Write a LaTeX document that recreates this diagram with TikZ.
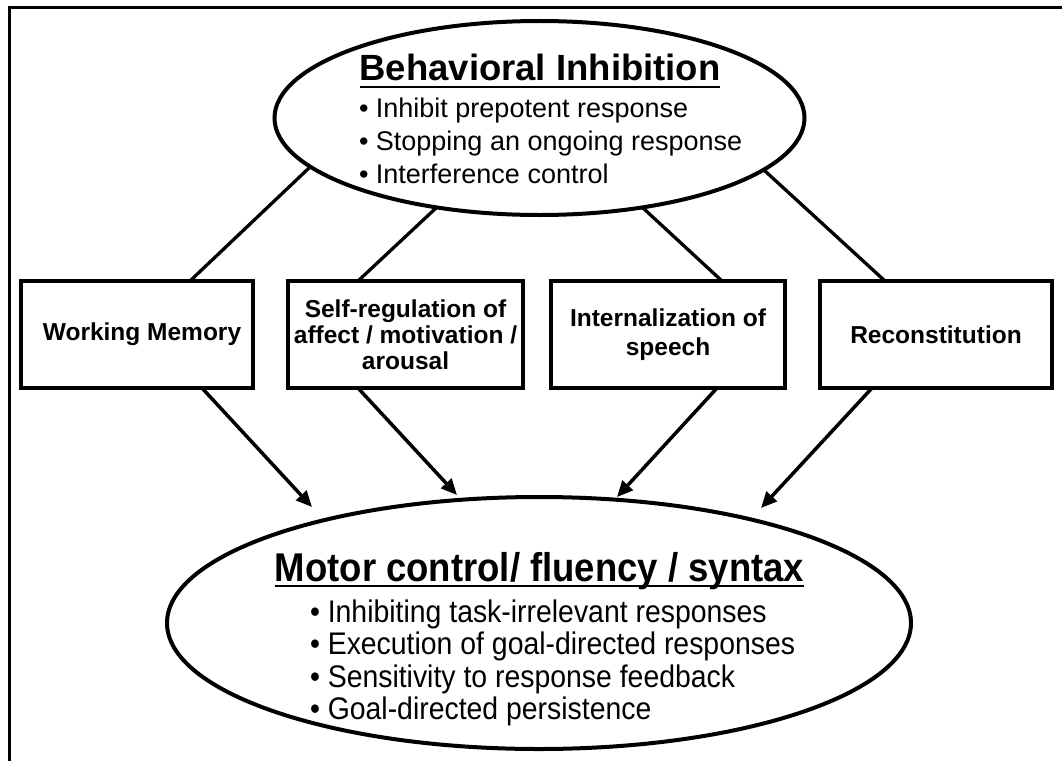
\documentclass[tikz,border=0pt]{standalone}
\usepackage{fontspec}
\setmainfont{Liberation Sans}
\usetikzlibrary{shapes.geometric,arrows.meta}

% lower ellipse text is set slightly taller than wide
\newcommand{\tallset}[1]{\scalebox{1}[1.1]{#1}}

\begin{document}
\begin{tikzpicture}[x=1pt,y=-1pt,
  every node/.style={outer sep=0pt},
  oval/.style={draw,ellipse,line width=4pt,inner sep=0pt},
  stage/.style={draw,rectangle,line width=4pt,minimum height=107pt,inner sep=0pt,
    align=center,font=\fontsize{24.5}{26}\selectfont\bfseries},
  heading/.style={inner sep=0pt,anchor=base,font=\fontsize{36.5}{40}\selectfont\bfseries},
  item/.style={inner sep=0pt,anchor=base west},
  topitem/.style={item,font=\fontsize{27}{33}\selectfont},
  lowitem/.style={item,font=\fontsize{28.4}{33}\selectfont},
  link/.style={line width=3.3pt},
  flow/.style={line width=3.5pt,-{Triangle[length=16pt,width=14pt]}},
  rule/.style={line width=2.8pt},
  frame/.style={line width=2.8pt}
]
\useasboundingbox (0,0) rectangle (1062,760);

% open frame: top and left sides
\draw[frame] (1070,7.2) -- (9.7,7.2) -- (9.7,770);

% central ellipses
\node[oval,minimum width=530pt,minimum height=194pt] (bi) at (539.5,118) {};
\node[oval,minimum width=744pt,minimum height=252pt] (mc) at (539,623) {};

% Behavioral Inhibition text
\node[heading] (bititle) at (540,80.5) {Behavioral Inhibition};
\draw[rule] ([yshift=-6.5pt]bititle.base west) -- ([yshift=-6.5pt]bititle.base east);
\node[topitem] (bi1) at (359,117) {• Inhibit prepotent response};
\node[topitem] (bi2) at (359,150) {• Stopping an ongoing response};
\node[topitem] (bi3) at (359,183) {• Interference control};

% executive function boxes
\node[stage,minimum width=232pt] (wm) at (137,334.5) {\hspace*{10pt}Working Memory};
\node[stage,minimum width=235pt] (sr) at (405.5,334.5) {Self-regulation of\\affect / motivation /\\arousal};
\node[stage,minimum width=234pt,font=\fontsize{24.5}{29}\selectfont\bfseries] (is) at (668,334.5) {Internalization of\\speech};
\node[stage,minimum width=232pt] (rc) at (936,334.5) {Reconstitution};

% Motor control text
\node[heading] (mctitle) at (539.5,581) {\tallset{Motor control/ fluency / syntax}};
\draw[rule] ([yshift=-5pt]mctitle.base west) -- ([yshift=-5pt]mctitle.base east);
\node[lowitem] (mc1) at (310,622) {\tallset{• Inhibiting task-irrelevant responses}};
\node[lowitem] (mc2) at (310,654.5) {\tallset{• Execution of goal-directed responses}};
\node[lowitem] (mc3) at (310,687) {\tallset{• Sensitivity to response feedback}};
\node[lowitem] (mc4) at (310,719.5) {\tallset{• Goal-directed persistence}};

% links from Behavioral Inhibition to the four boxes
\draw[link] (bi.192.4) -- ([xshift=53pt]wm.north);
\draw[link] (bi.221.3) -- ([xshift=-47.5pt]sr.north);
\draw[link] (bi.319.3) -- ([xshift=54pt]is.north);
\draw[link] (bi.347.7) -- ([xshift=-51pt]rc.north);

% arrows into Motor control
\coordinate (t1) at (312,507);
\coordinate (t2) at (457,495);
\coordinate (t3) at (617,497);
\coordinate (t4) at (761,508);
\draw[flow] ([xshift=65pt]wm.south) -- (t1);
\draw[flow] ([xshift=-47.5pt]sr.south) -- (t2);
\draw[flow] ([xshift=49pt]is.south) -- (t3);
\draw[flow] ([xshift=-64pt]rc.south) -- (t4);
\end{tikzpicture}
\end{document}
